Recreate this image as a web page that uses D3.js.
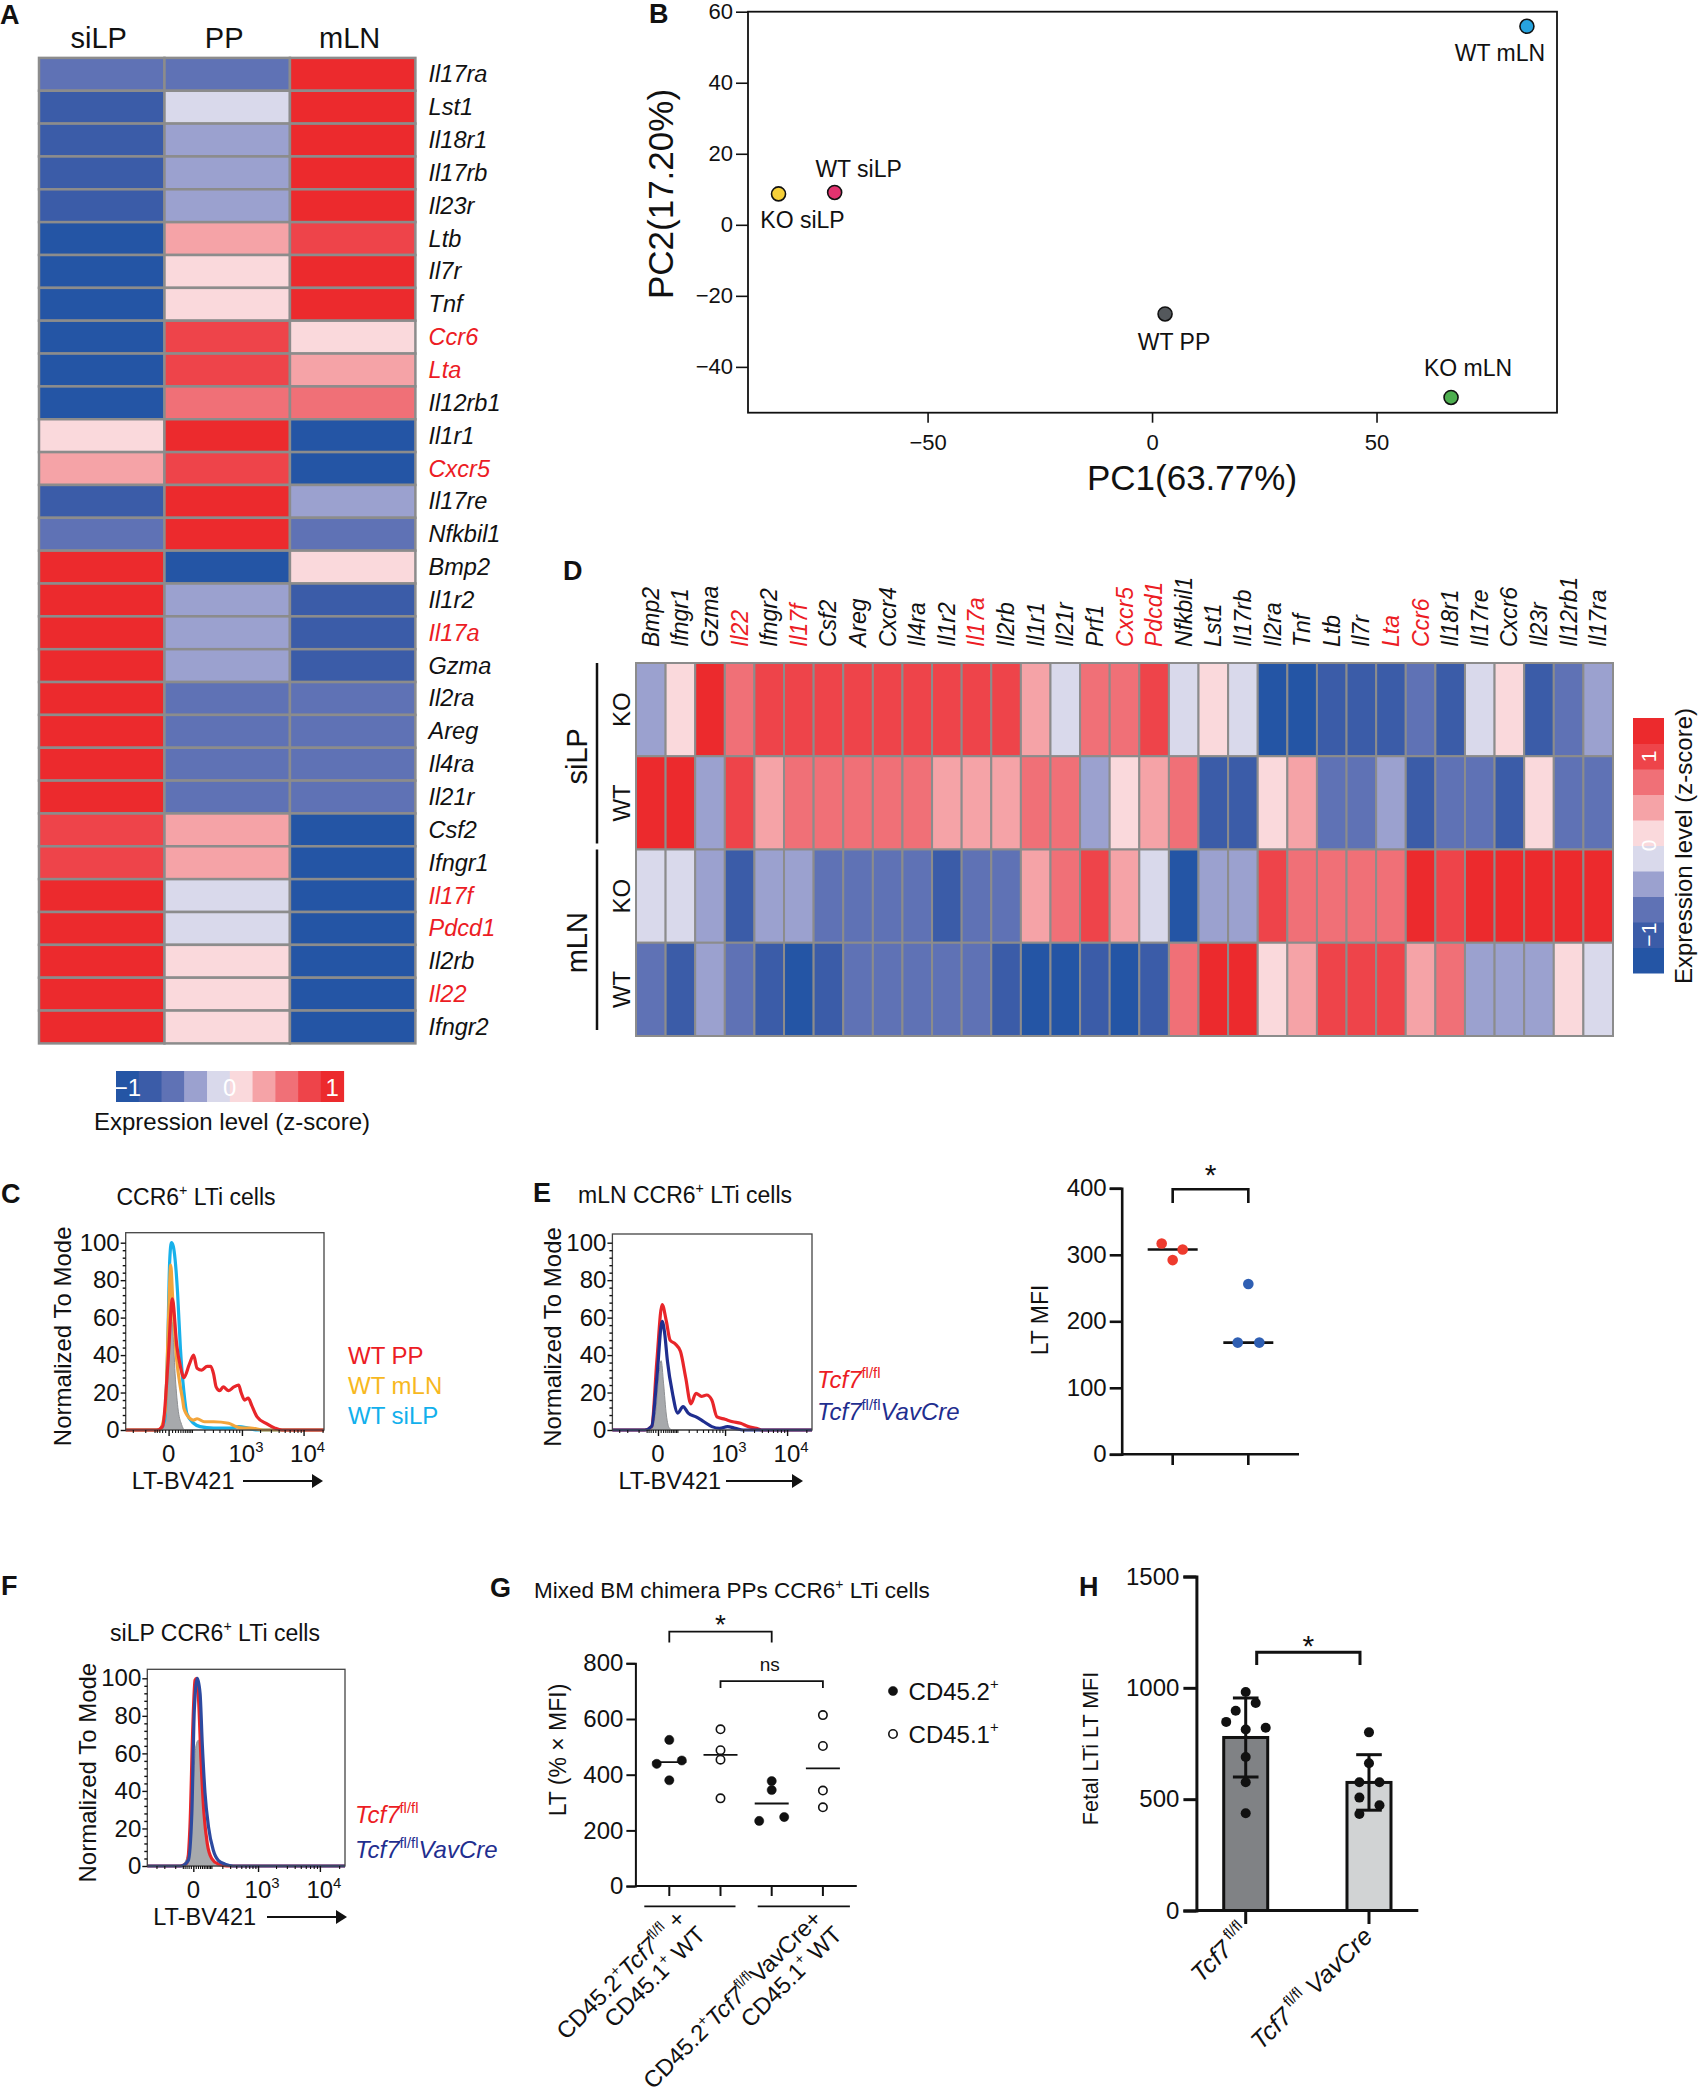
<!DOCTYPE html>
<html>
<head>
<meta charset="utf-8">
<script src="https://cdn.jsdelivr.net/npm/d3@7/dist/d3.min.js"></script>
<style>
html,body{margin:0;padding:0;background:#fff;}
svg{display:block;}
</style>
</head>
<body>
<svg id="fig" width="1699" height="2100" xmlns="http://www.w3.org/2000/svg"></svg>
<script>
// ======================= DATA =======================
// shared z-score palette (10 bins from -1 to 1)
const zPalette = ["#2455a5","#3b5ca8","#5f72b5","#9ba1cf","#d9d9eb","#fad9dc","#f5a3a7","#f07077","#ee444a","#ec2a2d"];
const zLegendTicks = [-1, 0, 1];
const zLegendTitle = "Expression level (z-score)";

// ---- Panel A ----
const aTissues = ["siLP","PP","mLN"];
const aGenes = ["Il17ra","Lst1","Il18r1","Il17rb","Il23r","Ltb","Il7r","Tnf","Ccr6","Lta","Il12rb1","Il1r1","Cxcr5","Il17re","Nfkbil1","Bmp2","Il1r2","Il17a","Gzma","Il2ra","Areg","Il4ra","Il21r","Csf2","Ifngr1","Il17f","Pdcd1","Il2rb","Il22","Ifngr2"];
const aHighlighted = ["Ccr6","Lta","Cxcr5","Il17a","Il17f","Pdcd1","Il22"];
const aSiLP = [-0.55,-0.8,-0.8,-0.8,-0.8,-1,-1,-1,-1,-1,-1,0.1,0.3,-0.8,-0.55,1,1,1,1,1,1,1,1,0.8,0.8,1,1,1,1,1];
const aPP   = [-0.55,-0.1,-0.3,-0.3,-0.3,0.3,0.1,0.1,0.8,0.8,0.55,1,0.8,1,1,-1,-0.3,-0.3,-0.3,-0.55,-0.55,-0.55,-0.55,0.3,0.3,-0.1,-0.1,0.1,0.1,0.1];
const aMLN  = [1,1,1,1,1,0.8,1,1,0.1,0.3,0.55,-1,-1,-0.3,-0.55,0.1,-0.8,-0.8,-0.8,-0.55,-0.55,-0.55,-0.55,-1,-1,-1,-1,-1,-1,-1];

// ---- Panel B (PCA) ----
const pcaSamples = ["KO siLP","WT siLP","WT mLN","WT PP","KO mLN"];
const pc1 = [-83.2,-70.7,83.5,2.9,66.6];
const pc2 = [8.7,9.1,55.9,-25.1,-48.6];
const pc1Ticks = [-50,0,50];
const pc2Ticks = [-40,-20,0,20,40,60];
const pc1Title = "PC1(63.77%)";
const pc2Title = "PC2(17.20%)";

// ---- Panel D ----
const dGenes = ["Bmp2","Ifngr1","Gzma","Il22","Ifngr2","Il17f","Csf2","Areg","Cxcr4","Il4ra","Il1r2","Il17a","Il2rb","Il1r1","Il21r","Prf1","Cxcr5","Pdcd1","Nfkbil1","Lst1","Il17rb","Il2ra","Tnf","Ltb","Il7r","Lta","Ccr6","Il18r1","Il17re","Cxcr6","Il23r","Il12rb1","Il17ra"];
const dHighlighted = ["Il22","Il17f","Il17a","Cxcr5","Pdcd1","Lta","Ccr6"];
const dGroups = ["siLP","mLN"];
const dGenotypes = ["KO","WT"];
const dSiLP_KO = [-0.3,0.1,1,0.55,0.8,0.8,0.8,0.8,0.8,0.8,0.8,0.8,0.8,0.3,-0.1,0.55,0.55,0.8,-0.1,0.1,-0.1,-1,-1,-0.8,-0.8,-0.8,-0.55,-0.8,-0.1,0.1,-0.8,-0.55,-0.3];
const dSiLP_WT = [1,1,-0.3,0.8,0.3,0.55,0.55,0.55,0.55,0.55,0.3,0.3,0.3,0.55,0.55,-0.3,0.1,0.3,0.55,-0.8,-0.8,0.1,0.3,-0.55,-0.55,-0.3,-0.8,-0.55,-0.55,-0.8,0.1,-0.55,-0.55];
const dMLN_KO  = [-0.1,-0.1,-0.3,-0.8,-0.3,-0.3,-0.55,-0.55,-0.55,-0.55,-0.8,-0.55,-0.55,0.3,0.55,0.8,0.3,-0.1,-1,-0.3,-0.3,0.8,0.55,0.55,0.55,0.55,1,0.8,1,1,1,1,1];
const dMLN_WT  = [-0.55,-0.8,-0.3,-0.55,-0.8,-1,-0.8,-0.55,-0.55,-0.55,-0.55,-0.55,-0.8,-1,-1,-0.8,-1,-0.8,0.55,1,1,0.1,0.3,0.8,0.8,0.8,0.3,0.55,-0.3,-0.3,-0.3,0.1,-0.1];

// ---- Flow histograms: [LT-BV421 intensity, % of mode] ----
const flowMajorTicks = [0, 1000, 10000];
const flowMajorLabels = [[{t:"0"}],[{t:"10"},{t:"3",sup:true}],[{t:"10"},{t:"4",sup:true}]];
const flowMinorTicks = [-300,-200,-100,-50,-40,-30,-20,-10,10,20,30,40,50,60,70,80,90,100,200,300,400,500,600,700,800,900,2000,3000,4000,5000,6000,7000,8000,9000,20000];
const modeTicks = [0,20,40,60,80,100];
const flowAxisTitle = "LT-BV421";
const modeTitle = "Normalized To Mode";

// Panel C
const cWTPP   = [[-281,0],[-40,0],[-18,2],[-2,35],[11,70],[26,45],[40,34],[56,28],[84,35],[111,40],[136,33],[175,32],[229,34],[271,34],[309,30],[346,23],[403,21],[470,23],[588,21],[728,23],[878,24],[968,20],[1110,16],[1275,17],[1464,13],[1790,7],[2510,3.5],[3495,1],[4545,0],[21080,0]];
const cWTmLN  = [[-281,0],[-30,0],[-10,10],[0,60],[6,88],[12,70],[26,37],[40,23],[50,16],[56,11.5],[90,6],[111,5.3],[136,6],[200,4.4],[309,4.4],[588,3.6],[800,1.8],[1050,1],[1400,1],[2300,0],[21080,0]];
const cWTsiLP = [[-281,0],[-30,0],[-12,5],[-3,40],[3,90],[8,100],[14,98],[20,91],[29,73],[40,44],[56,20],[70,9],[111,3.6],[160,1.8],[309,1],[650,1],[878,1.8],[1275,1],[1790,0],[21080,0]];
const cControl = [[-281,0],[-20,0],[-8,10],[0,40],[6,62],[12,55],[20,30],[30,12],[45,3],[60,0],[21080,0]];
const cLegend = ["WT PP","WT mLN","WT siLP"];

// Panel E
const eFlox = [[-410,0],[-60,0],[-25,2],[-4,37],[16,67],[35,58],[54,48],[85,46],[123,42],[169,28],[224,14],[290,19.6],[372,18],[469,18.7],[585,16],[724,7],[994,5.7],[1345,4.4],[1816,3.6],[2434,1.8],[3261,0.9],[3946,0],[24510,0]];
const eVav  = [[-410,0],[-60,0],[-25,2],[-4,28],[16,58],[27,51.6],[40,37],[68,19.6],[103,9],[145,12.5],[195,9],[290,7],[418,4.4],[585,1.8],[808,0.9],[1100,1.8],[1491,0.9],[2003,0],[24510,0]];
const eControl = [[-410,0],[-30,0],[-10,8],[4,30],[12,37],[22,25],[35,8],[50,1],[70,0],[24510,0]];

// Panel E right: LT MFI
const mfiGroups = ["Tcf7fl/fl","Tcf7fl/flVavCre"];
const mfiFlox = [317,308,292];
const mfiVav  = [256,168,168];
const mfiTicks = [0,100,200,300,400];

// Panel F
const fFlox = [[-459,0],[-67,0],[-29,1.5],[-14,21],[-2,74],[7,99],[14,100],[23,88],[35,56],[51,28],[71,12],[102,4],[158,1],[252,0],[24680,0]];
const fVav  = [[-459,0],[-60,0],[-21.5,3],[-6,28],[4,83],[17,100],[30,92],[42,64],[57,39],[79,21],[114,8.5],[158,3],[232,1],[346,0],[24680,0]];
const fControl = [[-459,0],[-60,0],[-38,2],[-17,12],[-2.4,39],[11,64],[21.5,67],[35,53],[51,24.5],[79,8.5],[114,2],[158,0],[24680,0]];

// Panel G
const gCats = ["flox_CD45.2","flox_CD45.1","vav_CD45.2","vav_CD45.1"];
const gFloxCD452 = [525,439,451,380];
const gFloxCD451 = [563,488,454,315];
const gVavCD452  = [377,345,234,248];
const gVavCD451  = [614,503,343,283];
const gTicks = [0,200,400,600,800];
const gLegend = ["CD45.2","CD45.1"];

// Panel H
const hCats = ["flox","vav"];
const hFlox = [981,897,932,847,813,821,689,576,437];
const hVav  = [800,661,576,576,507,473,433];
const hTicks = [0,500,1000,1500];

// ======================= DRAWING =======================
const FONT = '"Liberation Sans", Arial, Helvetica, sans-serif';
const INK = "#111";
const RED = "#ec1c24";
const NAVY = "#1f2e8f";
const svg = d3.select("#fig").attr("font-family", FONT);

function rich(textSel, parts, fs) {
  let shifted = false;
  parts.forEach(p => {
    const ts = textSel.append("tspan").text(p.t);
    if (p.sup) {
      ts.attr("font-size", fs * 0.62);
      if (!shifted) { ts.attr("dy", -fs * 0.42); shifted = true; }
    } else {
      ts.attr("font-size", fs);
      if (shifted) { ts.attr("dy", fs * 0.42); shifted = false; }
    }
    if (p.it) ts.attr("font-style", "italic");
    if (p.fill) ts.attr("fill", p.fill);
  });
  return textSel;
}
function styleAxis(g, fs, sw) {
  g.attr("font-family", FONT).attr("font-size", fs);
  g.selectAll("text").attr("fill", INK);
  g.selectAll("line").attr("stroke", INK).attr("stroke-width", sw);
  g.selectAll(".domain").attr("stroke", INK).attr("stroke-width", sw);
}
function panelLabel(t, x, y) {
  svg.append("text").attr("x", x).attr("y", y).attr("font-weight", "bold").attr("font-size", 27).attr("fill", INK).text(t);
}
function rotText(t, x, y, fs, opts) {
  opts = opts || {};
  const el = svg.append("text").attr("transform", `translate(${x},${y}) rotate(${opts.rot ?? -90})`)
    .attr("text-anchor", opts.anchor || "middle").attr("font-size", fs).attr("fill", opts.fill || INK);
  if (opts.italic) el.attr("font-style", "italic");
  el.text(t);
  return el;
}
const zColor = d3.scaleQuantize().domain([-10/9, 10/9]).range(zPalette);
const intFmt = d3.format("d");

// ---------- Panel A ----------
panelLabel("A", 0, 24);
{
  const ax = d3.scaleBand().domain(aTissues).range([39, 415.4]);
  const ay = d3.scaleBand().domain(aGenes).range([57.9, 1043.4]);
  const cols = {siLP: aSiLP, PP: aPP, mLN: aMLN};
  const cells = [];
  aTissues.forEach(t => aGenes.forEach((g, i) => cells.push({t, g, v: cols[t][i]})));
  svg.append("g").selectAll("rect").data(cells).join("rect")
    .attr("x", d => ax(d.t)).attr("y", d => ay(d.g))
    .attr("width", ax.bandwidth()).attr("height", ay.bandwidth())
    .attr("fill", d => zColor(d.v)).attr("stroke", "#8c8c8c").attr("stroke-width", 2.5);
  svg.append("g").selectAll("text").data(aTissues).join("text")
    .attr("x", d => ax(d) + ax.bandwidth() / 2 - 3).attr("y", 48).attr("text-anchor", "middle")
    .attr("font-size", 29).attr("fill", INK).text(d => d);
  svg.append("g").selectAll("text").data(aGenes).join("text")
    .attr("x", 428.6).attr("y", d => ay(d) + ay.bandwidth() / 2).attr("dominant-baseline", "central")
    .attr("font-size", 23.5).attr("font-style", "italic")
    .attr("fill", d => aHighlighted.includes(d) ? RED : INK).text(d => d);
  const lx = d3.scaleLinear().domain([-10/9, 10/9]).range([116, 343.6]);
  const segW = (lx.range()[1] - lx.range()[0]) / zPalette.length;
  svg.append("g").selectAll("rect").data(zPalette).join("rect")
    .attr("x", (d, i) => lx.range()[0] + i * segW).attr("y", 1071).attr("width", segW + 0.5).attr("height", 31).attr("fill", d => d);
  svg.append("g").selectAll("text").data(zLegendTicks).join("text")
    .attr("x", d => lx(d)).attr("y", 1087).attr("dominant-baseline", "central").attr("text-anchor", "middle")
    .attr("font-size", 24).attr("fill", "#fff").text(d => d < 0 ? "\u2212" + Math.abs(d) : d);
  svg.append("text").attr("x", 232).attr("y", 1130).attr("text-anchor", "middle").attr("font-size", 24).attr("fill", INK).text(zLegendTitle);
}

// ---------- Panel B ----------
panelLabel("B", 649, 23);
{
  const L = 748, R = 1557, T = 11.7, B = 412.7;
  const x = d3.scaleLinear().domain([-90, 90.2]).range([L, R]);
  const y = d3.scaleLinear().domain([-52.9, 60]).range([B, T]);
  svg.append("rect").attr("x", L).attr("y", T).attr("width", R - L).attr("height", B - T).attr("fill", "none").attr("stroke", INK).attr("stroke-width", 1.8);
  const ya = svg.append("g").attr("transform", `translate(${L},0)`).call(d3.axisLeft(y).tickValues(pc2Ticks).tickSize(12).tickPadding(3));
  ya.select(".domain").remove(); styleAxis(ya, 22, 1.6);
  const xa = svg.append("g").attr("transform", `translate(0,${B})`).call(d3.axisBottom(x).tickValues(pc1Ticks).tickSize(10).tickPadding(12));
  xa.select(".domain").remove(); styleAxis(xa, 22, 1.6);
  const pcaColors = {"KO siLP": "#f6d039", "WT siLP": "#e2336f", "WT mLN": "#27a3de", "WT PP": "#54585c", "KO mLN": "#4dae4f"};
  const pcaLabelOffsets = {"KO siLP": [24, 34], "WT siLP": [24, -15], "WT mLN": [-27, 35], "WT PP": [9, 36], "KO mLN": [17, -21]};
  const pts = pcaSamples.map((s, i) => ({s, a: pc1[i], b: pc2[i]}));
  svg.append("g").selectAll("circle").data(pts).join("circle")
    .attr("cx", d => x(d.a)).attr("cy", d => y(d.b)).attr("r", 7)
    .attr("fill", d => pcaColors[d.s]).attr("stroke", INK).attr("stroke-width", 1.6);
  svg.append("g").selectAll("text").data(pts).join("text")
    .attr("x", d => x(d.a) + pcaLabelOffsets[d.s][0]).attr("y", d => y(d.b) + pcaLabelOffsets[d.s][1])
    .attr("text-anchor", "middle").attr("font-size", 23).attr("fill", INK).text(d => d.s);
  svg.append("text").attr("x", 1192).attr("y", 490).attr("text-anchor", "middle").attr("font-size", 35).attr("fill", INK).text(pc1Title);
  rotText(pc2Title, 673, 194, 35);
}

// ---------- Panel D ----------
panelLabel("D", 563, 580);
{
  const rows = ["siLP KO", "siLP WT", "mLN KO", "mLN WT"];
  const rowData = {"siLP KO": dSiLP_KO, "siLP WT": dSiLP_WT, "mLN KO": dMLN_KO, "mLN WT": dMLN_WT};
  const dx = d3.scaleBand().domain(dGenes).range([636, 1613]);
  const dy = d3.scaleBand().domain(rows).range([663, 1036]);
  const cells = [];
  rows.forEach(r => dGenes.forEach((g, i) => cells.push({r, g, v: rowData[r][i]})));
  svg.append("g").selectAll("rect").data(cells).join("rect")
    .attr("x", d => dx(d.g)).attr("y", d => dy(d.r)).attr("width", dx.bandwidth()).attr("height", dy.bandwidth())
    .attr("fill", d => zColor(d.v)).attr("stroke", "#8c8c8c").attr("stroke-width", 2);
  dGenes.forEach(g => {
    rotText(g, dx(g) + dx.bandwidth() / 2 + 8, 647, 23, {anchor: "start", italic: true, fill: dHighlighted.includes(g) ? RED : INK});
  });
  rows.forEach(r => {
    rotText(r.split(" ")[1], 630, dy(r) + dy.bandwidth() / 2, 24);
  });
  dGroups.forEach((grp, gi) => {
    const top = dy(rows[gi * 2]), bot = dy(rows[gi * 2 + 1]) + dy.bandwidth();
    svg.append("line").attr("x1", 597).attr("x2", 597).attr("y1", top).attr("y2", bot - 6).attr("stroke", INK).attr("stroke-width", 2.5);
    rotText(grp, 586.5, (top + bot) / 2, 29);
  });
  const ly = d3.scaleLinear().domain([-1.43, 1.43]).range([973, 718]);
  const segH = (973 - 718) / zPalette.length;
  svg.append("g").selectAll("rect").data(zPalette).join("rect")
    .attr("x", 1633).attr("y", (d, i) => 973 - (i + 1) * segH).attr("width", 31).attr("height", segH + 0.5).attr("fill", d => d);
  zLegendTicks.forEach(v => rotText(v < 0 ? "\u2212" + Math.abs(v) : String(v), 1655.5, ly(v), 21, {fill: "#fff"}));
  rotText(zLegendTitle, 1692, 846, 24);
}

// ---------- Flow histogram helper ----------
function flowPanel(cfg) {
  const x = d3.scaleSymlog().constant(cfg.c).domain([cfg.xMin, cfg.xMax]).range([cfg.L, cfg.R]);
  const y = d3.scaleLinear().domain([0, 100]).range([cfg.B, cfg.Y100]);
  const g = svg.append("g");
  const area = d3.area().x(d => x(d[0])).y0(y(0)).y1(d => y(d[1])).curve(d3.curveMonotoneX);
  const line = d3.line().x(d => x(d[0])).y(d => y(d[1])).curve(d3.curveMonotoneX);
  g.append("path").datum(cfg.control).attr("d", area).attr("fill", "#a7a9ac").attr("stroke", "#8f9194").attr("stroke-width", 1);
  cfg.series.forEach(s => g.append("path").datum(s.data).attr("d", line).attr("fill", "none")
    .attr("stroke", s.color).attr("stroke-width", 3.2).attr("stroke-linejoin", "round"));
  g.append("rect").attr("x", cfg.L).attr("y", cfg.T).attr("width", cfg.R - cfg.L).attr("height", cfg.B - cfg.T)
    .attr("fill", "none").attr("stroke", "#444").attr("stroke-width", 1.3);
  const ya = g.append("g").attr("transform", `translate(${cfg.L},0)`).call(d3.axisLeft(y).tickValues(modeTicks).tickSize(5).tickPadding(1));
  ya.select(".domain").remove(); styleAxis(ya, 24, 1.4);
  const ym = g.append("g").attr("transform", `translate(${cfg.L},0)`).call(d3.axisLeft(y).tickValues(d3.range(0, 101, 4).filter(v => v % 20)).tickSize(3).tickFormat(""));
  ym.select(".domain").remove(); styleAxis(ym, 10, 1.4);
  const xa = g.append("g").attr("transform", `translate(0,${cfg.B})`).call(d3.axisBottom(x).tickValues(flowMajorTicks).tickSize(6).tickFormat(""));
  xa.select(".domain").remove(); styleAxis(xa, 10, 1.4);
  const xm = g.append("g").attr("transform", `translate(0,${cfg.B})`).call(d3.axisBottom(x).tickValues(flowMinorTicks.filter(v => v > cfg.xMin && v < cfg.xMax)).tickSize(3).tickFormat(""));
  xm.select(".domain").remove(); styleAxis(xm, 10, 1.1);
  flowMajorTicks.forEach((v, i) => {
    const t = g.append("text").attr("x", x(v) + (i ? 4 : 0)).attr("y", cfg.B + 32).attr("text-anchor", "middle").attr("fill", INK);
    rich(t, flowMajorLabels[i], 24);
  });
  g.append("text").attr("x", cfg.L + 6).attr("y", cfg.B + 59).attr("font-size", 23.5).attr("fill", INK).text(flowAxisTitle);
  const ay = cfg.B + 51;
  g.append("line").attr("x1", cfg.arrow[0]).attr("x2", cfg.arrow[1]).attr("y1", ay).attr("y2", ay).attr("stroke", INK).attr("stroke-width", 1.8);
  g.append("path").attr("d", `M${cfg.arrow[1]},${ay - 7}L${cfg.arrow[2]},${ay}L${cfg.arrow[1]},${ay + 7}Z`).attr("fill", INK);
  rotText(modeTitle, cfg.yTitleX, (cfg.T + cfg.B) / 2 + 5, 24);
  return {x, y};
}
function tcfLegend(x, y1, y2) {
  rich(svg.append("text").attr("x", x).attr("y", y1).attr("fill", RED), [{t: "Tcf7", it: true}, {t: "fl/fl", sup: true}], 24);
  rich(svg.append("text").attr("x", x).attr("y", y2).attr("fill", NAVY), [{t: "Tcf7", it: true}, {t: "fl/fl", sup: true}, {t: "VavCre", it: true}], 24);
}

// ---------- Panel C ----------
panelLabel("C", 1, 1203);
rich(svg.append("text").attr("x", 196).attr("y", 1205).attr("text-anchor", "middle").attr("fill", INK), [{t: "CCR6"}, {t: "+", sup: true}, {t: " LTi cells"}], 23);
flowPanel({L: 125.7, R: 324, T: 1232.7, B: 1430, Y100: 1242.7, c: 75, xMin: -281, xMax: 21080,
  control: cControl,
  series: [{data: cWTsiLP, color: "#18b1ea"}, {data: cWTmLN, color: "#f3a53b"}, {data: cWTPP, color: "#e8262a"}],
  arrow: [243, 312, 323], yTitleX: 71});
{
  const cLegendColors = [RED, "#f7b81f", "#12b0ec"];
  cLegend.forEach((t, i) => svg.append("text").attr("x", 348).attr("y", 1364 + i * 30).attr("font-size", 24).attr("fill", cLegendColors[i]).text(t));
}

// ---------- Panel E ----------
panelLabel("E", 533, 1202);
rich(svg.append("text").attr("x", 578).attr("y", 1203).attr("fill", INK), [{t: "mLN CCR6"}, {t: "+", sup: true}, {t: " LTi cells"}], 23);
flowPanel({L: 612.4, R: 812, T: 1234, B: 1430, Y100: 1242.7, c: 100, xMin: -410, xMax: 24510,
  control: eControl,
  series: [{data: eFlox, color: "#e8262a"}, {data: eVav, color: NAVY}],
  arrow: [726, 792, 803], yTitleX: 561});
tcfLegend(817, 1388, 1420);

// ---------- Panel E right: LT MFI ----------
{
  const y = d3.scaleLinear().domain([0, 400]).range([1454.3, 1188.3]);
  const x = d3.scalePoint().domain(mfiGroups).range([1122, 1299]).padding(0.67);
  const ya = svg.append("g").attr("transform", `translate(1121.7,0)`).call(d3.axisLeft(y).tickValues(mfiTicks).tickFormat(intFmt).tickSize(12).tickPadding(3));
  styleAxis(ya, 24, 2.6);
  svg.append("line").attr("x1", 1121.7).attr("x2", 1299).attr("y1", 1454.3).attr("y2", 1454.3).attr("stroke", INK).attr("stroke-width", 2.6);
  mfiGroups.forEach(gp => svg.append("line").attr("x1", x(gp)).attr("x2", x(gp)).attr("y1", 1454.3).attr("y2", 1465).attr("stroke", INK).attr("stroke-width", 2.6));
  rotText("LT MFI", 1047.5, 1320, 23);
  const sets = [{g: mfiGroups[0], v: mfiFlox, c: "#ee3b2e", j: [-11, 10, 0]}, {g: mfiGroups[1], v: mfiVav, c: "#2f5fb3", j: [0, -10.6, 11]}];
  sets.forEach(s => {
    const m = d3.median(s.v);
    svg.append("line").attr("x1", x(s.g) - 25).attr("x2", x(s.g) + 25).attr("y1", y(m)).attr("y2", y(m)).attr("stroke", INK).attr("stroke-width", 2.6);
    s.v.forEach((v, i) => svg.append("circle").attr("cx", x(s.g) + s.j[i]).attr("cy", y(v)).attr("r", 5.3).attr("fill", s.c));
  });
  const x1 = x(mfiGroups[0]), x2 = x(mfiGroups[1]);
  svg.append("path").attr("d", `M${x1},1203V1189.3H${x2}V1203`).attr("fill", "none").attr("stroke", INK).attr("stroke-width", 2.6);
  svg.append("text").attr("x", (x1 + x2) / 2).attr("y", 1185).attr("text-anchor", "middle").attr("font-size", 30).attr("fill", INK).text("*");
}

// ---------- Panel F ----------
panelLabel("F", 1, 1595);
rich(svg.append("text").attr("x", 215).attr("y", 1641).attr("text-anchor", "middle").attr("fill", INK), [{t: "siLP CCR6"}, {t: "+", sup: true}, {t: " LTi cells"}], 23);
flowPanel({L: 147.3, R: 345, T: 1669.3, B: 1866, Y100: 1678.3, c: 110, xMin: -459, xMax: 24680,
  control: fControl,
  series: [{data: fFlox, color: "#e8262a"}, {data: fVav, color: "#2d4aa0"}],
  arrow: [267, 336, 347], yTitleX: 96});
tcfLegend(355, 1823, 1858);

// ---------- Panel G ----------
panelLabel("G", 490, 1597);
rich(svg.append("text").attr("x", 534).attr("y", 1598).attr("fill", INK), [{t: "Mixed BM chimera PPs CCR6"}, {t: "+", sup: true}, {t: " LTi cells"}], 22.5);
{
  const y = d3.scaleLinear().domain([0, 800]).range([1886.1, 1663.3]);
  const x = d3.scalePoint().domain(gCats).range([635.4, 856.8]).padding(0.662);
  const ya = svg.append("g").attr("transform", `translate(635.4,0)`).call(d3.axisLeft(y).tickValues(gTicks).tickFormat(intFmt).tickSize(9).tickPadding(3));
  styleAxis(ya, 24, 2);
  svg.append("line").attr("x1", 635.4).attr("x2", 856.8).attr("y1", 1886.1).attr("y2", 1886.1).attr("stroke", INK).attr("stroke-width", 2);
  gCats.forEach(c => svg.append("line").attr("x1", x(c)).attr("x2", x(c)).attr("y1", 1886.1).attr("y2", 1896).attr("stroke", INK).attr("stroke-width", 2));
  rotText("LT (% \u00d7 MFI)", 566, 1750, 23);
  const sets = [
    {c: gCats[0], v: gFloxCD452, solid: true, j: [0, -12.6, 12.5, 0]},
    {c: gCats[1], v: gFloxCD451, solid: false, j: [0, 0, 0, 0]},
    {c: gCats[2], v: gVavCD452, solid: true, j: [0, 0, -12.5, 12.5]},
    {c: gCats[3], v: gVavCD451, solid: false, j: [0, 0, 0, 0]}];
  sets.forEach(s => {
    const m = d3.median(s.v);
    svg.append("line").attr("x1", x(s.c) - 17).attr("x2", x(s.c) + 17).attr("y1", y(m)).attr("y2", y(m)).attr("stroke", INK).attr("stroke-width", 1.8);
    s.v.forEach((v, i) => svg.append("circle").attr("cx", x(s.c) + s.j[i]).attr("cy", y(v)).attr("r", s.solid ? 4.6 : 4.2)
      .attr("fill", s.solid ? INK : "#fff").attr("stroke", INK).attr("stroke-width", s.solid ? 0.5 : 1.6));
  });
  const bx1 = x(gCats[0]), bx2 = x(gCats[2]);
  svg.append("path").attr("d", `M${bx1},1642.6V1631.6H${bx2}V1642.6`).attr("fill", "none").attr("stroke", INK).attr("stroke-width", 1.8);
  svg.append("text").attr("x", (bx1 + bx2) / 2).attr("y", 1634).attr("text-anchor", "middle").attr("font-size", 28).attr("fill", INK).text("*");
  const nx1 = x(gCats[1]), nx2 = x(gCats[3]);
  svg.append("path").attr("d", `M${nx1},1688V1681.2H${nx2}V1688`).attr("fill", "none").attr("stroke", INK).attr("stroke-width", 1.8);
  svg.append("text").attr("x", (nx1 + nx2) / 2 - 2).attr("y", 1671).attr("text-anchor", "middle").attr("font-size", 19).attr("fill", INK).text("ns");
  [[true, 1691], [false, 1734]].forEach(([solid, yy], i) => {
    svg.append("circle").attr("cx", 893).attr("cy", yy).attr("r", solid ? 4.6 : 4.2).attr("fill", solid ? INK : "#fff").attr("stroke", INK).attr("stroke-width", solid ? 0.5 : 1.6);
    rich(svg.append("text").attr("x", 908.6).attr("y", yy + 8.5).attr("fill", INK), [{t: gLegend[i]}, {t: "+", sup: true}], 24);
  });
  svg.append("line").attr("x1", x(gCats[0]) - 25).attr("x2", x(gCats[1]) + 15).attr("y1", 1906.4).attr("y2", 1906.4).attr("stroke", INK).attr("stroke-width", 1.8);
  svg.append("line").attr("x1", x(gCats[2]) - 14).attr("x2", x(gCats[3]) + 27).attr("y1", 1906.4).attr("y2", 1906.4).attr("stroke", INK).attr("stroke-width", 1.8);
  const gLabels = [
    {ax: (x(gCats[0]) + x(gCats[1])) / 2 - 8, lines: [[{t: "CD45.2"}, {t: "+", sup: true}, {t: "Tcf7", it: true}, {t: "fl/fl", sup: true}, {t: " +"}], [{t: "CD45.1"}, {t: "+", sup: true}, {t: " WT"}]]},
    {ax: (x(gCats[2]) + x(gCats[3])) / 2 + 26, lines: [[{t: "CD45.2"}, {t: "+", sup: true}, {t: "Tcf7", it: true}, {t: "fl/fl", sup: true}, {t: "VavCre+"}], [{t: "CD45.1"}, {t: "+", sup: true}, {t: " WT"}]]}];
  gLabels.forEach(gl => {
    gl.lines.forEach((ln, li) => {
      const t = svg.append("text").attr("transform", `translate(${gl.ax + li * 20},${1920 + li * 16}) rotate(-45)`).attr("text-anchor", "end").attr("fill", INK);
      rich(t, ln, 23.5);
    });
  });
}

// ---------- Panel H ----------
panelLabel("H", 1079, 1596);
{
  const y = d3.scaleLinear().domain([0, 1500]).range([1910.5, 1576.5]);
  const x = d3.scalePoint().domain(hCats).range([1196.4, 1418.3]).padding(0.4);
  const sets = [{c: hCats[0], v: hFlox, fill: "#808285", j: [0, -10, 10, -19.5, 0, 20, 0, 0, 0]},
                {c: hCats[1], v: hVav, fill: "#d1d3d4", j: [0, 0, -9.6, 10.5, -9.6, 10.5, -9.6]}];
  sets.forEach(s => {
    const m = d3.mean(s.v), sd = d3.deviation(s.v);
    svg.append("rect").attr("x", x(s.c) - 22).attr("y", y(m)).attr("width", 44).attr("height", y(0) - y(m)).attr("fill", s.fill).attr("stroke", INK).attr("stroke-width", 3);
    svg.append("line").attr("x1", x(s.c)).attr("x2", x(s.c)).attr("y1", y(m + sd)).attr("y2", y(m - sd)).attr("stroke", INK).attr("stroke-width", 3);
    [m + sd, m - sd].forEach(v => svg.append("line").attr("x1", x(s.c) - 12.8).attr("x2", x(s.c) + 12.8).attr("y1", y(v)).attr("y2", y(v)).attr("stroke", INK).attr("stroke-width", 3));
    s.v.forEach((v, i) => svg.append("circle").attr("cx", x(s.c) + s.j[i]).attr("cy", y(v)).attr("r", 5).attr("fill", INK));
  });
  const ya = svg.append("g").attr("transform", `translate(1196.4,0)`).call(d3.axisLeft(y).tickValues(hTicks).tickFormat(intFmt).tickSize(13).tickPadding(4));
  styleAxis(ya, 24, 3);
  svg.append("line").attr("x1", 1196.4).attr("x2", 1418.3).attr("y1", 1910.5).attr("y2", 1910.5).attr("stroke", INK).attr("stroke-width", 3);
  hCats.forEach(c => svg.append("line").attr("x1", x(c)).attr("x2", x(c)).attr("y1", 1910.5).attr("y2", 1924).attr("stroke", INK).attr("stroke-width", 3));
  rotText("Fetal LTi LT MFI", 1097.5, 1748.5, 21.5);
  const bx1 = x(hCats[0]) + 11, bx2 = x(hCats[1]) - 9;
  svg.append("path").attr("d", `M${bx1},1665V1652.3H${bx2}V1665`).attr("fill", "none").attr("stroke", INK).attr("stroke-width", 3);
  svg.append("text").attr("x", (bx1 + bx2) / 2).attr("y", 1656).attr("text-anchor", "middle").attr("font-size", 30).attr("fill", INK).text("*");
  const hLabels = [[{t: "Tcf7", it: true}, {t: " fl/fl", sup: true}], [{t: "Tcf7", it: true}, {t: " fl/fl", sup: true}, {t: " VavCre", it: true}]];
  hCats.forEach((c, i) => {
    const t = svg.append("text").attr("transform", `translate(${x(c) + 5},${1934 + i * 4}) rotate(-45)`).attr("text-anchor", "end").attr("fill", INK);
    rich(t, hLabels[i], 25);
  });
}
</script>
</body>
</html>
